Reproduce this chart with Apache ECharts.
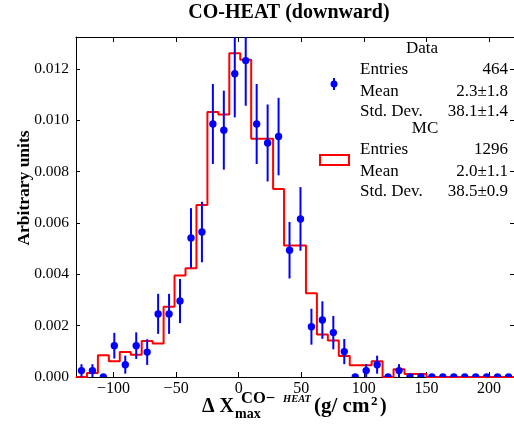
<!DOCTYPE html>
<html>
<head>
<meta charset="utf-8">
<script src="https://cdn.jsdelivr.net/npm/echarts@6/dist/echarts.min.js"></script>
<style>
  html, body { margin: 0; padding: 0; background: #fff; }
  #chart { width: 514px; height: 427px; }
</style>
</head>
<body>
<div id="chart"></div>
<script>
// ---- Data ----
var binStart = -130;
var binWidth = 8.75;

// Data histogram (blue points), normalised values per bin
var dataValues = [
  0.00025, 0.00025, 0.00000, 0.00122, 0.00048, 0.00122, 0.00097, 0.00246, 0.00246, 0.00296,
  0.00542, 0.00565, 0.00986, 0.00962, 0.01182, 0.01233, 0.00986, 0.00912, 0.00937, 0.00494,
  0.00616, 0.00196, 0.00222, 0.00173, 0.00099, 0.00000, 0.00025, 0.00048, 0.00000, 0.00025,
  0, 0, 0, 0, 0, 0, 0, 0, 0, 0
];
// Data error bars (half-lengths)
var dataErrors = [
  0.00025, 0.00025, 0.00000, 0.00050, 0.00035, 0.00052, 0.00050, 0.00078, 0.00078, 0.00086,
  0.00116, 0.00118, 0.00156, 0.00154, 0.00170, 0.00176, 0.00156, 0.00150, 0.00151, 0.00110,
  0.00124, 0.00070, 0.00073, 0.00065, 0.00049, 0.00000, 0.00025, 0.00035, 0.00000, 0.00025,
  0, 0, 0, 0, 0, 0, 0, 0, 0, 0
];
// MC histogram (red step line)
var mcValues = [
  0.00000, 0.00016, 0.00085, 0.00061, 0.00097, 0.00087, 0.00140, 0.00131, 0.00274, 0.00396,
  0.00424, 0.00670, 0.01033, 0.01023, 0.01262, 0.01236, 0.00928, 0.00928, 0.00733, 0.00512,
  0.00512, 0.00326, 0.00166, 0.00142, 0.00082, 0.00046, 0.00046, 0.00061, 0.00000, 0.00030,
  0.00012, 0.00012, 0, 0, 0, 0, 0, 0, 0, 0
];

var xTicks = [-100, -50, 0, 50, 100, 150, 200];
var yTicks = [0, 0.002, 0.004, 0.006, 0.008, 0.010, 0.012];

var statsData = [["Entries", "464"], ["Mean", "2.3\u00b11.8"], ["Std. Dev.", "38.1\u00b11.4"]];
var statsMC = [["Entries", "1296"], ["Mean", "2.0\u00b11.1"], ["Std. Dev.", "38.5\u00b10.9"]];

// ---- Build series data ----
var pointData = dataValues.map(function (v, i) {
  return [binStart + binWidth * (i + 0.5), v, dataErrors[i]];
});
var stepData = mcValues.map(function (v, i) {
  return [binStart + binWidth * i, v];
});
stepData.push([binStart + binWidth * mcValues.length, mcValues[mcValues.length - 1]]);

var FONT = "Liberation Serif";
var chart = echarts.init(document.getElementById('chart'), null, { renderer: 'canvas' });

function axisBase() {
  return {
    axisLine: { show: true, onZero: false, lineStyle: { color: '#000', width: 1 } },
    splitLine: { show: false }
  };
}

var xBottom = Object.assign(axisBase(), {
  type: 'value', min: -130, max: 220, position: 'bottom',
  axisTick: { show: true, inside: true, length: 5, customValues: xTicks, lineStyle: { color: '#000' } },
  axisLabel: {
    customValues: xTicks, color: '#000', fontFamily: FONT, fontSize: 16, margin: 4,
    formatter: function (v) { return String(v).replace('-', '\u2212'); }
  }
});
var xTop = Object.assign(axisBase(), {
  type: 'value', min: -130, max: 220, position: 'top',
  axisTick: { show: true, inside: true, length: 5, customValues: xTicks, lineStyle: { color: '#000' } },
  axisLabel: { show: false }
});
var yLeft = Object.assign(axisBase(), {
  type: 'value', min: 0, max: 0.01325, position: 'left',
  axisTick: { show: true, inside: true, length: 4, customValues: yTicks, lineStyle: { color: '#000' } },
  axisLabel: {
    customValues: yTicks, color: '#000', fontFamily: FONT, fontSize: 15.5, margin: 7,
    formatter: function (v) { return v.toFixed(3); }
  }
});
var yRight = Object.assign(axisBase(), {
  type: 'value', min: 0, max: 0.01325, position: 'right',
  axisTick: { show: true, inside: true, length: 4, customValues: yTicks, lineStyle: { color: '#000' } },
  axisLabel: { show: false }
});

function txt(text, x, y, size, opts) {
  opts = opts || {};
  return {
    type: 'text', x: x, y: y, rotation: opts.rotation || 0, z: 100,
    style: {
      text: text, fill: '#000', fontFamily: FONT, fontSize: size,
      fontWeight: opts.bold ? 'bold' : 'normal', fontStyle: opts.italic ? 'italic' : 'normal',
      align: opts.align || 'left', verticalAlign: 'middle'
    }
  };
}

var graphics = [];
// title
graphics.push(txt('CO-HEAT (downward)', 289, 13, 20, { bold: true, align: 'center' }));
// y axis title
graphics.push(txt('Arbitrary units', 24, 188, 17.5, { bold: true, align: 'center', rotation: Math.PI / 2 }));
// x axis title pieces
graphics.push(txt('\u0394 X', 202, 407, 20, { bold: true }));
graphics.push(txt('max', 235, 414, 14, { bold: true }));
graphics.push(txt('CO\u2212', 241, 399, 16.5, { bold: true }));
graphics.push(txt('HEAT', 283, 399, 10.5, { bold: true, italic: true }));
graphics.push(txt('(g/ cm', 314, 407, 21, { bold: true }));
graphics.push(txt('2', 371, 402, 13, { bold: true }));
graphics.push(txt(')', 380, 407, 20, { bold: true }));

// stats boxes
graphics.push(txt('Data', 422, 49, 17, { align: 'center' }));
var rowsY1 = [70, 92, 112];
statsData.forEach(function (r, i) {
  graphics.push(txt(r[0], 360, rowsY1[i], 17));
  graphics.push(txt(r[1], 508, rowsY1[i], 17, { align: 'right' }));
});
graphics.push(txt('MC', 425, 129, 17, { align: 'center' }));
var rowsY2 = [150, 172, 192];
statsMC.forEach(function (r, i) {
  graphics.push(txt(r[0], 360, rowsY2[i], 17));
  graphics.push(txt(r[1], 508, rowsY2[i], 17, { align: 'right' }));
});
// legend markers
graphics.push({ type: 'line', z: 100, shape: { x1: 334, y1: 78, x2: 334, y2: 90 }, style: { stroke: '#0000ff', lineWidth: 2 } });
graphics.push({ type: 'circle', z: 100, shape: { cx: 334, cy: 84, r: 3.5 }, style: { fill: '#0000ff' } });
graphics.push({ type: 'rect', z: 100, shape: { x: 320, y: 155, width: 29, height: 10 }, style: { fill: 'none', stroke: '#ff0000', lineWidth: 2 } });

var option = {
  animation: false,
  backgroundColor: '#ffffff',
  grid: { left: 76, right: 0, top: 37, bottom: 50, containLabel: false },
  xAxis: [xBottom, xTop],
  yAxis: [yLeft, yRight],
  graphic: graphics,
  series: [
    {
      name: 'MC', type: 'line', xAxisIndex: 0, yAxisIndex: 0,
      step: 'end', data: stepData, showSymbol: false, symbol: 'none',
      lineStyle: { color: '#ff0000', width: 2 }, clip: true, z: 2
    },
    {
      name: 'Data', type: 'custom', xAxisIndex: 0, yAxisIndex: 0, clip: true, z: 3,
      data: pointData,
      renderItem: function (params, api) {
        var x = api.value(0), y = api.value(1), e = api.value(2);
        var p = api.coord([x, y]);
        var children = [];
        if (e > 0) {
          var t = api.coord([x, y + e]);
          var b = api.coord([x, y - e]);
          children.push({ type: 'line', shape: { x1: p[0], y1: t[1], x2: p[0], y2: b[1] },
            style: { stroke: '#0000ff', lineWidth: 2 } });
        }
        children.push({ type: 'circle', shape: { cx: p[0], cy: p[1], r: 3.7 }, style: { fill: '#0000ff' } });
        return { type: 'group', children: children };
      }
    }
  ]
};
chart.setOption(option);
</script>
</body>
</html>
